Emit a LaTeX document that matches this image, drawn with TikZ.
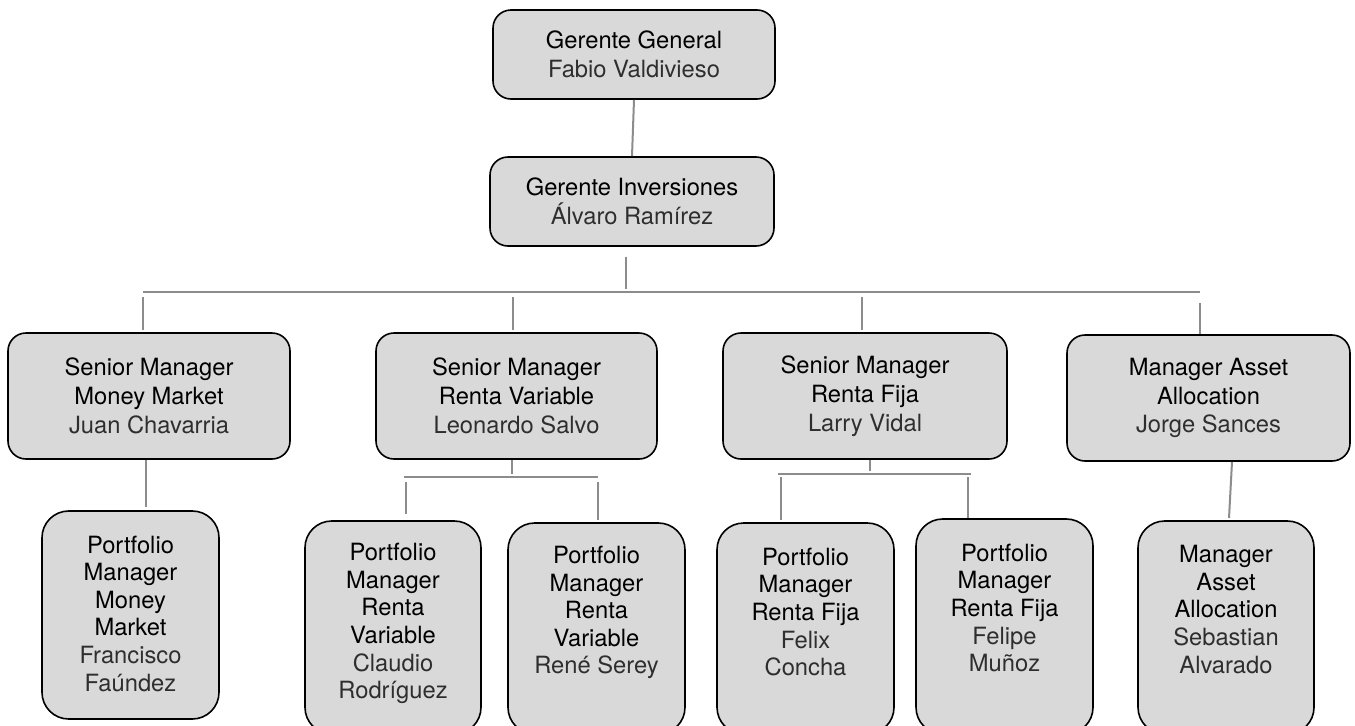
\documentclass[tikz,border=0pt]{standalone}
\usepackage{fontspec}
\setmainfont{TeX Gyre Heros}
\definecolor{boxgray}{HTML}{D9D9D9}
\definecolor{linegray}{HTML}{8C8C8C}
\definecolor{namegray}{HTML}{2E2E2E}
\newcommand{\nm}[1]{{\color{namegray}#1}}
\begin{document}
\begin{tikzpicture}[x=0.75pt,y=-0.75pt,
  topbox/.style={draw=black, line width=1.2pt, fill=boxgray, rounded corners=13.5pt,
    inner sep=0pt, align=center, font=\fontsize{17.8}{21.6}\selectfont},
  botbox/.style={draw=black, line width=1.2pt, fill=boxgray, rounded corners=20pt, inner sep=0pt},
  bottxt/.style={align=center, inner sep=0pt, font=\fontsize{17.8}{20.7}\selectfont},
  conn/.style={draw=linegray, line width=1.5pt}]
\path[use as bounding box] (0,0) rectangle (1355,725);
\clip (0,0) rectangle (1355,725);

% top boxes
\node[topbox, minimum width=211.5pt, minimum height=66.75pt] (gg) at (634,54.5)
  {Gerente General\\\nm{Fabio Valdivieso}};
\node[topbox, minimum width=213pt, minimum height=66.75pt] (gi) at (632,201.5)
  {Gerente Inversiones\\\nm{Álvaro Ramírez}};

% senior level
\node[topbox, minimum width=211.5pt, minimum height=94.5pt] (s1) at (149,396)
  {Senior Manager\\Money Market\\\nm{Juan Chavarria}};
\node[topbox, minimum width=210.75pt, minimum height=94.5pt] (s2) at (516.5,396)
  {Senior Manager\\Renta Variable\\\nm{Leonardo Salvo}};
\node[topbox, minimum width=213pt, minimum height=94.5pt] (s3) at (865,396)
  {Senior Manager\\Renta Fija\\\nm{Larry Vidal}};
\node[topbox, minimum width=212.25pt, minimum height=94.5pt] (s4) at (1208.5,398)
  {Manager Asset\\Allocation\\\nm{Jorge Sances}};

% bottom boxes
\node[botbox, minimum width=132.75pt, minimum height=156pt] (p1) at (130.5,615) {};
\node[botbox, minimum width=132pt, minimum height=159.75pt] (p2) at (393,627.5) {};
\node[botbox, minimum width=132.75pt, minimum height=158.25pt] (p3) at (596.5,628.5) {};
\node[botbox, minimum width=132.75pt, minimum height=158.25pt] (p4) at (805.5,628.5) {};
\node[botbox, minimum width=132.75pt, minimum height=161.25pt] (p5) at (1004.5,626.5) {};
\node[botbox, minimum width=132pt, minimum height=159.75pt] (p6) at (1226,627.5) {};

\node[bottxt] (p1t) at (130.5,613.5) {Portfolio\\Manager\\Money\\Market\\\nm{Francisco}\\\nm{Faúndez}};
\node[bottxt] (p2t) at (393,623.5) {Portfolio\\Manager\\Renta\\Variable\\\nm{Claudio}\\\nm{Rodríguez}};
\node[bottxt] (p3t) at (596.5,612.5) {Portfolio\\Manager\\Renta\\Variable\\\nm{René Serey}};
\node[bottxt] (p4t) at (805.5,612) {Portfolio\\Manager\\Renta Fija\\\nm{Felix}\\\nm{Concha}};
\node[bottxt] (p5t) at (1004.5,608) {Portfolio\\Manager\\Renta Fija\\\nm{Felipe}\\\nm{Muñoz}};
\node[bottxt] (p6t) at (1226,609.5) {Manager\\Asset\\Allocation\\\nm{Sebastian}\\\nm{Alvarado}};

% connectors
\draw[conn] (gg.south) -- (gi.north);
\coordinate (j0) at (626,289);
\draw[conn, shorten <=7.5pt] (j0 |- gi.south) -- (j0);
\coordinate (bl) at (143,292);
\coordinate (br) at (1200,292);
\draw[conn] (bl) -- (br);
\coordinate (d1) at (143,297);
\coordinate (d2) at (513,297);
\coordinate (d3) at (862,297);
\coordinate (d4) at (1200,303);
\draw[conn, shorten >=1.5pt] (d1) -- (d1 |- s1.north);
\draw[conn, shorten >=2pt] (d2) -- (d2 |- s2.north);
\draw[conn, shorten >=1.5pt] (d3) -- (d3 |- s3.north);
\draw[conn] (d4) -- (d4 |- s4.north);

% under s1
\coordinate (e1) at (146,507);
\draw[conn] (e1 |- s1.south) -- (e1);
% under s2
\coordinate (e2) at (512,474);
\draw[conn] (e2 |- s2.south) -- (e2);
\coordinate (b2l) at (404,477);
\coordinate (b2r) at (598,477);
\draw[conn] (b2l) -- (b2r);
\coordinate (f2) at (406,482);
\coordinate (f3) at (598,482);
\draw[conn, shorten >=5pt] (f2) -- (f2 |- p2.north);
\draw[conn, shorten >=2pt] (f3) -- (f3 |- p3.north);
% under s3
\coordinate (e3) at (870,471);
\draw[conn] (e3 |- s3.south) -- (e3);
\coordinate (b3l) at (778,474);
\coordinate (b3r) at (971,474);
\draw[conn] (b3l) -- (b3r);
\coordinate (f4) at (781,477);
\coordinate (f5) at (968,477);
\draw[conn, shorten >=2pt] (f4) -- (f4 |- p4.north);
\draw[conn] (f5) -- (f5 |- p5.north);
% under s4
\coordinate (e4) at (1232,462);
\coordinate (g4) at (1229,518);
\draw[conn] (e4 |- s4.south) -- (g4);
\end{tikzpicture}
\end{document}
